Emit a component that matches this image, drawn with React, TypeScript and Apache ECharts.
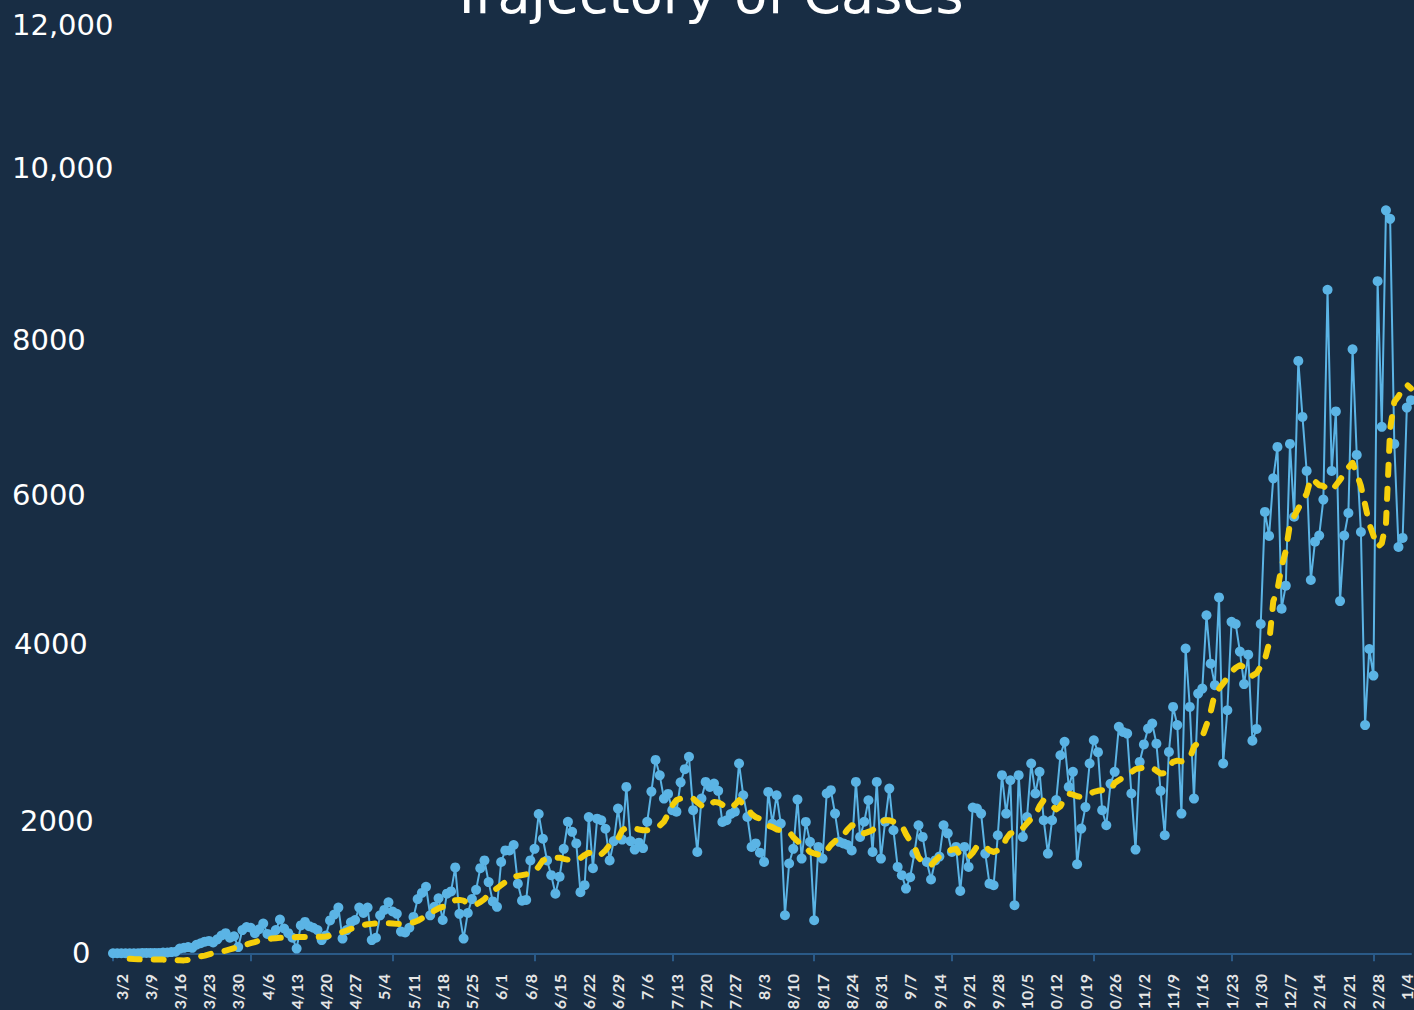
import React, { useEffect, useRef } from "react";
import * as echarts from "echarts";

// Daily new cases, 3/2/2020 .. 1/7/2021
const dailyCases: number[] = [
  0, 0, 0, 0, 0, 0, 0,
  5, 5, 5, 5, 5, 10, 10,
  15, 20, 60, 70, 80, 70, 110,
  130, 150, 160, 140, 180, 230, 260,
  200, 220, 80, 300, 340, 330, 260,
  310, 385, 250, 240, 300, 435, 320,
  260, 200, 60, 360, 405, 350, 330,
  300, 170, 230, 425, 500, 590, 190,
  300, 400, 430, 590, 520, 590, 170,
  200, 490, 560, 660, 540, 510, 280,
  270, 330, 470, 700, 780, 860, 490,
  600, 710, 430, 770, 800, 1110, 510,
  190, 520, 700, 820, 1100, 1200, 920,
  670, 600, 1180, 1330, 1330, 1400, 900,
  680, 690, 1200, 1350, 1800, 1480, 1200,
  1010, 770, 990, 1350, 1700, 1570, 1420,
  790, 880, 1760, 1100, 1740, 1720, 1610,
  1200, 1450, 1870, 1470, 2150, 1450, 1340,
  1430, 1360, 1700, 2090, 2500, 2300, 2000,
  2060, 1850, 1830, 2210, 2380, 2540, 1850,
  1310, 2000, 2215, 2150, 2194, 2100, 1698,
  1720, 1800, 1830, 2453, 2043, 1763, 1375,
  1420, 1300, 1181, 2086, 1676, 2043, 1676,
  491, 1160, 1350, 1987, 1224, 1698, 1440,
  427, 1375, 1224, 2065, 2108, 1806, 1440,
  1420, 1400, 1330, 2215, 1504, 1700, 1978,
  1310, 2215, 1224, 1700, 2129, 1590, 1116,
  1010, 836, 983, 1290, 1655, 1504, 1181,
  953, 1200, 1250, 1655, 1550, 1310, 1375,
  806, 1375, 1116, 1884, 1871, 1806, 1289,
  900, 879, 1526, 2302, 1806, 2237, 621,
  2302, 1504, 1760, 2453, 2065, 2345, 1720,
  1289, 1720, 1980, 2560, 2733, 2150, 2345,
  1151, 1612, 1890, 2453, 2754, 2600, 1850,
  1655, 2190, 2345, 2927, 2860, 2840, 2065,
  1340, 2474, 2700, 2905, 2970, 2710, 2100,
  1526, 2603, 3185, 2950, 1806, 3940, 3185,
  2000, 3357, 3422, 4370, 3744, 3466, 4600,
  2453, 3142, 4284, 4256, 3900, 3480, 3860,
  2748, 2900, 4256, 5705, 5395, 6140, 6546,
  4455, 4752, 6585, 5643, 7658, 6934, 6235,
  4825, 5321, 5400, 5865, 8577, 6235, 7005,
  4553, 5400, 5692, 7807, 6442, 5446, 2950,
  3933, 3590, 8688, 6805, 9604, 9494, 6585,
  5252, 5369, 7054, 7150,
];

// 7-day average (yellow dashed)
const sevenDayAvg: (number | null)[] = [
  null, null, null, null,
  -70, -75, -78, -80, -80, -80,
  -80, -80, -82, -85, -85, -88, -90,
  -92, -85, -70, -55, -40, -30, -15,
  0, 10, 20, 35, 50, 65, 80,
  100, 115, 130, 145, 160, 170, 180,
  190, 195, 200, 200, 205, 205, 210,
  210, 210, 210, 210, 212, 215, 218,
  225, 240, 255, 275, 295, 315, 330,
  350, 365, 375, 380, 385, 390, 390,
  388, 385, 380, 378, 380, 390, 400,
  420, 450, 490, 520, 550, 580, 600,
  630, 660, 685, 690, 680, 650, 620,
  630, 660, 700, 760, 800, 840, 880,
  920, 960, 990, 1000, 1010, 1020, 1030,
  1060, 1120, 1200, 1215, 1230, 1237, 1235,
  1220, 1210, 1200, 1205, 1230, 1270, 1300,
  1280, 1250, 1280, 1330, 1400, 1440, 1480,
  1590, 1620, 1630, 1615, 1600, 1590, 1590,
  1600, 1620, 1650, 1700, 1800, 1910, 1980,
  2000, 2010, 2010, 2000, 1950, 1910, 1884,
  1920, 1957, 1950, 1920, 1890, 1870, 1920,
  1978, 1930, 1880, 1800, 1760, 1740, 1720,
  1650, 1630, 1600, 1590, 1580, 1570, 1500,
  1450, 1400, 1360, 1310, 1290, 1275, 1267,
  1330, 1400, 1450, 1500, 1525, 1600, 1655,
  1640, 1580, 1550, 1570, 1590, 1650, 1700,
  1720, 1720, 1700, 1680, 1655, 1540, 1450,
  1380, 1240, 1180, 1160, 1138, 1200, 1250,
  1290, 1320, 1340, 1350, 1267, 1250, 1240,
  1300, 1380, 1400, 1380, 1330, 1310, 1330,
  1360, 1480, 1550, 1560, 1560, 1620, 1680,
  1740, 1785, 1900, 1980, 1950, 1900, 1860,
  1900, 2000, 2065, 2050, 2030, 2020, 2040,
  2060, 2086, 2100, 2108, 2100, 2108, 2200,
  2237, 2270, 2302, 2340, 2380, 2390, 2400,
  2410, 2400, 2360, 2323, 2330, 2420, 2474,
  2490, 2480, 2496, 2520, 2670, 2720, 2800,
  2950, 3120, 3360, 3420, 3490, 3560, 3640,
  3690, 3724, 3700, 3650, 3590, 3620, 3710,
  3800, 4010, 4550, 4700, 5000, 5200, 5550,
  5650, 5750, 5850, 5940, 6140, 6100, 6050,
  6040, 6000, 5980, 6050, 6120, 6200, 6280,
  6340, 6200, 6040, 5800, 5550, 5400, 5250,
  5300, 5550, 6780, 7130, 7200, 7300, 7350, 7300,
];

const yTickValues: number[] = [0, 2000, 4000, 6000, 8000, 10000, 12000];
const yTickTexts: string[] = ["0", "2000", "4000", "6000", "8000", "10,000", "12,000"];
const majorTickIndices: number[] = [0, 33, 67, 101, 134, 168, 201, 235, 268, 302];

// Category labels: one per day starting 3/2/2020
const dates: string[] = dailyCases.map((_, i) => {
  const d = new Date(Date.UTC(2020, 2, 2 + i));
  return `${d.getUTCMonth() + 1}/${d.getUTCDate()}`;
});

// per-label nudges so the labels sit where the reference shows them
const yLabelNudge: Record<number, number[]> = {
  0: [0, 0, 0, 60],
  2000: [44, 0, 0, 8],
  4000: [0, 0, 0, 2],
  6000: [12, 0, 0, 0],
  8000: [12, 0, 0, 0],
  10000: [0, 0, 24, 0],
  12000: [0, 0, 0, 0],
};

const yFont = { color: "#ffffff", fontSize: 29, fontFamily: "DejaVu Sans" };
const yRich: Record<string, any> = {};
yTickValues.forEach((v) => {
  yRich["v" + v] = { ...yFont, padding: yLabelNudge[v] };
});

export default function App() {
  const ref = useRef<HTMLDivElement>(null);
  useEffect(() => {
    if (!ref.current) return;
    const chart = echarts.init(ref.current, undefined, { renderer: "svg" });
    chart.setOption({
      animation: false,
      backgroundColor: "#182d44",
      graphic: [
        {
          type: "text",
          left: "center",
          top: -33,
          style: {
            text: "Trajectory of Cases",
            fontSize: 54,
            fontFamily: "DejaVu Sans",
            fill: "#ffffff",
          },
        },
      ],
      grid: { left: 113, right: 3, top: 25, bottom: 49, containLabel: false, outerBoundsMode: "none" },
      xAxis: {
        type: "category",
        data: dates,
        boundaryGap: false,
        axisLine: { show: true, lineStyle: { color: "#2a5a88", width: 2 } },
        axisTick: {
          show: true,
          length: 8,
          interval: (i: number) => majorTickIndices.includes(i),
          lineStyle: { color: "#2a5a88", width: 2 },
        },
        axisLabel: {
          interval: 6,
          rotate: 90,
          margin: 13,
          color: "#e6e6e6",
          fontFamily: "'Liberation Sans Narrow', Lato",
          fontWeight: "bold",
          fontSize: 16,
          verticalAlign: "top",
        },
        splitLine: { show: false },
      },
      yAxis: {
        type: "value",
        min: -100,
        max: 12000,
        axisLine: { show: false },
        axisTick: { show: false },
        splitLine: { show: false },
        axisLabel: {
          customValues: yTickValues,
          formatter: (v: number) => {
            const k = yTickValues.indexOf(v);
            return `{v${v}|${yTickTexts[k]}}`;
          },
          align: "left",
          margin: 101,
          ...yFont,
          rich: yRich,
        },
      },
      series: [
        {
          type: "line",
          data: dailyCases,
          symbol: "circle",
          symbolSize: 10,
          showAllSymbol: true,
          lineStyle: { color: "#5bb4e5", width: 2 },
          itemStyle: { color: "#5bb4e5" },
          z: 2,
        },
        {
          type: "line",
          data: sevenDayAvg,
          symbol: "none",
          lineStyle: { color: "#f5cf0a", width: 6, type: [10, 14], cap: "round", join: "round" },
          z: 3,
        },
      ],
    });
    return () => chart.dispose();
  }, []);
  return (
    <div
      ref={ref}
      style={{ position: "fixed", left: 0, top: 0, width: 1414, height: 1010 }}
    />
  );
}
